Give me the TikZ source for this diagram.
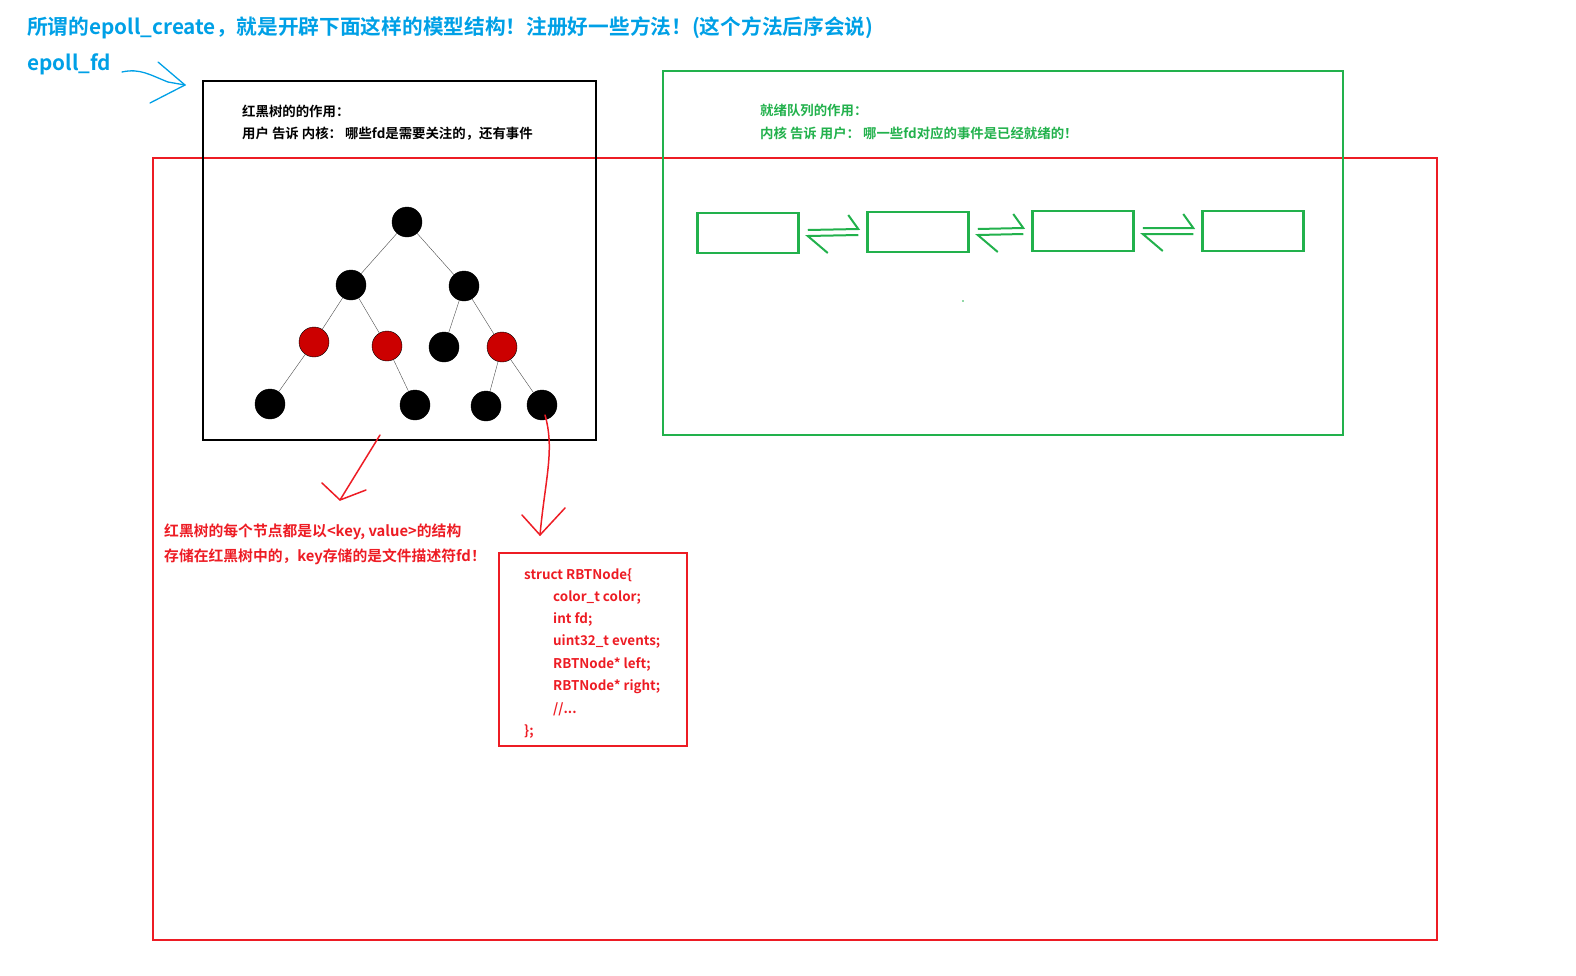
\documentclass[tikz,border=0pt]{standalone}
\usepackage{fontspec}
\setmainfont{Noto Sans CJK SC Bold}
\usetikzlibrary{arrows.meta,positioning}
\definecolor{myblue}{RGB}{0,160,230}
\definecolor{mygreen}{RGB}{34,177,76}
\definecolor{myred}{RGB}{237,28,36}
\begin{document}
\begin{tikzpicture}
[
x=1pt, y=-1pt,
blk/.style={circle, fill=black, draw=black, minimum size=30pt, inner sep=0},
rd/.style={circle, fill=red!80!black, draw=black, minimum size=30pt, inner sep=0},
qbox/.style={draw=mygreen, line width=2.5pt, minimum width=101pt, minimum height=40pt},
txt/.style={anchor=west, inner sep=0, font=\fontsize{13.4}{15}\selectfont},
handred/.style={myred, line width=1.5pt, line cap=round, line join=round}
]
\useasboundingbox (0,0) rectangle (1576,975);
%Frames
\draw[myred, line width=2pt] (153,158) rectangle (1437,940);
\draw[black, line width=2pt] (203,81) rectangle (596,440);
\draw[mygreen, line width=2.5pt] (663,71) rectangle (1343,435);
%Titles
\node[txt, font=\fontsize{20.7}{24}\selectfont, text=myblue] (title) at (27,28) {所谓的epoll\_create，就是开辟下面这样的模型结构！注册好一些方法！(这个方法后序会说)};
\node[txt, font=\fontsize{20.7}{24}\selectfont, text=myblue] (efd) at (27,64) {epoll\_fd};
\coordinate (etail) at (122,72);
\draw[myblue, line width=1.3pt, line cap=round] (etail) .. controls (140,68) and (150,75) .. (168,82) -- (185,85);
\draw[myblue, line width=1.3pt, line cap=round] (158,62) -- (185,85) -- (150,103);
\node[txt] (rbt1) at (242,111) {红黑树的的作用：};
\node[txt] (rbt2) at (242,134) {用户 告诉 内核：  哪些fd是需要关注的，还有事件};
\node[txt, text=mygreen] (rq1) at (760,110) {就绪队列的作用：};
\node[txt, text=mygreen] (rq2) at (760,133) {内核 告诉 用户：  哪一些fd对应的事件是已经就绪的！};
%Tree
\node[blk] (n1) at (407,222) {};
\node[blk] (n2) at (351,285) {};
\node[blk] (n3) at (464,286) {};
\node[rd]  (n4) at (314,342) {};
\node[rd]  (n5) at (387,346) {};
\node[blk] (n6) at (444,347) {};
\node[rd]  (n7) at (502,347) {};
\node[blk] (n8) at (270,404) {};
\node[blk] (n9) at (415,405) {};
\node[blk] (n10) at (486,406) {};
\node[blk] (n11) at (542,405) {};
\foreach \a/\b in {n1/n2,n1/n3,n2/n4,n2/n5,n3/n6,n3/n7,n4/n8,n5/n9,n7/n10,n7/n11}
  \draw[black!70] (\a) -- (\b);
%Queue
\node[qbox] (q1) at (748,233) {};
\node[qbox] (q2) at (918,232) {};
\node[qbox] (q3) at (1083,231) {};
\node[qbox] (q4) at (1253,231) {};
\foreach \a/\b in {q1/q2,q2/q3,q3/q4}{
  \draw[mygreen, line width=2pt] ([xshift=8pt,yshift=3pt]\a.east) -- ([xshift=-8pt,yshift=3pt]\b.west) -- ++(-10,-14);
  \draw[mygreen, line width=2pt] ([xshift=-8pt,yshift=-3pt]\b.west) -- ([xshift=8pt,yshift=-3pt]\a.east) -- ++(20,17);
}
\fill[mygreen] (963,301) circle (0.8);
%Red notes
\coordinate (a1) at (380,435);
\coordinate (a2) at (545,415);
\node[txt, font=\fontsize{14.8}{17}\selectfont, text=myred] (note1) at (164,532) {红黑树的每个节点都是以<key, value>的结构};
\node[txt, font=\fontsize{14.8}{17}\selectfont, text=myred] (note2) at (164,557) {存储在红黑树中的，key存储的是文件描述符fd！};
\draw[handred] (a1) -- (340,500);
\draw[handred] (322,483) -- (340,500) -- (366,490);
\draw[handred] (a2) .. controls (555,450) and (545,480) .. (540,535);
\draw[handred] (522,515) -- (540,535) -- (565,508);
\draw[myred, line width=2pt] (499,553) rectangle (687,746);
\node[txt, text=myred] (code) at (524,575) {struct RBTNode\{};
\foreach \t [count=\i] in {color\_t color;,int fd;,uint32\_t events;,RBTNode* left;,RBTNode* right;}
  \node[txt, text=myred] (code\i) at (553,575+22.3*\i) {\t};
\node[txt, text=myred] (code6) at (553,709) {//...};
\node[txt, text=myred] (codeend) at (524,732) {\};};
\end{tikzpicture}
\end{document}
